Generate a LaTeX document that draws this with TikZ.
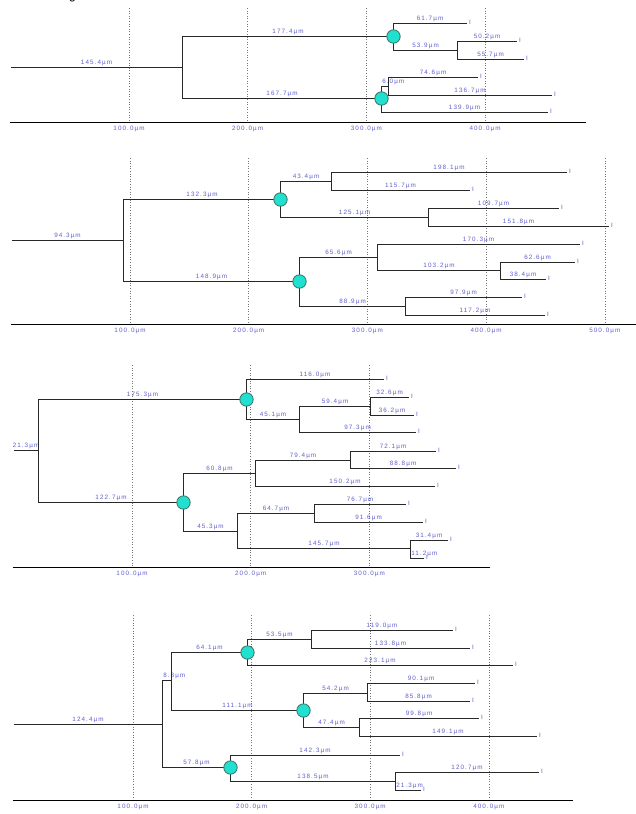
\documentclass[tikz,border=0pt]{standalone}
\usepackage{fontspec}
\newfontfamily\lblfont[LetterSpace=17]{Liberation Sans}
\newfontfamily\hdfont{Liberation Sans}
\definecolor{edgegray}{RGB}{40,40,40}
\definecolor{lblblue}{RGB}{95,95,205}
\definecolor{turq}{RGB}{32,224,208}
\definecolor{turqline}{RGB}{60,110,100}
\definecolor{gridgray}{RGB}{120,120,120}
\tikzset{
  edge/.style={draw=edgegray, line width=1.6pt},
  gridln/.style={draw=gridgray, dotted, line width=0.6pt},
  axisln/.style={draw=black, line width=1.8pt},
  lbl/.style={font=\lblfont\fontsize{6.3}{7}\selectfont, text=lblblue, inner sep=0pt},
  lblA/.style={lbl, anchor=base, yshift=3.2pt},
  lblL/.style={lbl, anchor=base west, yshift=3.2pt},
  ticklbl/.style={lbl, anchor=base, yshift=-8pt},
  leafmk/.style={lbl, anchor=base west, xshift=2.5pt, yshift=-1.2pt},
  brpt/.style={circle, fill=turq, draw=turqline, line width=0.8pt, minimum size=13.4pt, inner sep=0pt}
}
% junctions and leaves sit on pixel centres so the strokes stay crisp
\newcommand\jn[3]{%
  \pgfmathsetmacro\snx{floor(#2)+0.5}\pgfmathsetmacro\sny{floor(#3)+0.5}%
  \coordinate (#1) at (\snx,\sny);}
\newcommand\lf[3]{%
  \pgfmathsetmacro\snx{floor(#2)+0.5}\pgfmathsetmacro\sny{floor(#3)+0.5}%
  \coordinate (#1) at (\snx,\sny); \node[leafmk] (#1t) at (#1) {I};}
\newcommand\br[3]{\draw[edge] (#1) |- node[lblA,pos=0.75]{#3} (#2);}
\newcommand\brs[3]{\draw[edge] (#1) |- node[lblL,pos=0.5]{#3} (#2);}
\newcommand\rootbr[3]{\draw[edge] (#1) -- node[lblA]{#3} (#2);}
\newcommand\bp[1]{\node[brpt] (#1n) at (#1) {};}

\begin{document}
\begin{tikzpicture}[x=1pt,y=-1pt]
\useasboundingbox (0,0) rectangle (636,814);
\fill[white] (0,0) rectangle (636,814);

% clipped heading above the first tree
\node[font=\hdfont\fontsize{12}{14}\selectfont, anchor=base, inner sep=0pt] (hd) at (72.5,-0.3) {g};

% ---------------- tree 1 ----------------
\foreach \gx in {129,247.6,366.4,485.1} \draw[gridln] (\gx,8) -- (\gx,122.5);
\draw[axisln] (10,122.5) -- (585.7,122.5);
\foreach \gx/\t in {129/100.0,247.6/200.0,366.4/300.0,485.1/400.0}
  \node[ticklbl] at (\gx,122.3) {\t µm};

\jn{t1r}{10}{67}
\jn{t1a}{182.5}{67}
\jn{t1b}{393.1}{36.3}
\jn{t1c}{381.6}{98.7}
\jn{t1d}{457.1}{50.3}
\jn{t1e}{388.7}{86}
\lf{t1l1}{466.3}{23.7}
\lf{t1l2}{516.7}{41.3}
\lf{t1l3}{523.2}{59.3}
\lf{t1l4}{477.3}{77.3}
\lf{t1l5}{551}{95}
\lf{t1l6}{547.7}{112.7}

\rootbr{t1r}{t1a}{145.4µm}
\br{t1a}{t1b}{177.4µm}
\br{t1a}{t1c}{167.7µm}
\br{t1b}{t1l1}{61.7µm}
\br{t1b}{t1d}{53.9µm}
\br{t1d}{t1l2}{50.2µm}
\br{t1d}{t1l3}{55.7µm}
\brs{t1c}{t1e}{6.0µm}
\br{t1e}{t1l4}{74.6µm}
\br{t1e}{t1l5}{136.7µm}
\br{t1c}{t1l6}{139.9µm}
\bp{t1b}
\bp{t1c}

% ---------------- tree 2 ----------------
\foreach \gx in {130,248.7,367.4,486.1,604.8} \draw[gridln] (\gx,158) -- (\gx,324.5);
\draw[axisln] (10.7,324.5) -- (636,324.5);
\foreach \gx/\t in {130/100.0,248.7/200.0,367.4/300.0,486.1/400.0,604.8/500.0}
  \node[ticklbl] at (\gx,324.7) {\t µm};

\jn{t2r}{11}{240}
\jn{t2a}{123.2}{240}
\jn{t2b}{280.2}{199.3}
\jn{t2c}{299.9}{281.3}
\jn{t2d}{331.7}{181.3}
\jn{t2e}{428.7}{217.3}
\jn{t2f}{377.8}{257}
\jn{t2g}{405.4}{306}
\jn{t2h}{500.3}{270.3}
\lf{t2l1}{566.8}{172.7}
\lf{t2l2}{469}{190.7}
\lf{t2l3}{558.9}{208.7}
\lf{t2l4}{608.9}{226.7}
\lf{t2l5}{579.9}{244.3}
\lf{t2l6}{574.6}{262}
\lf{t2l7}{545.9}{279.7}
\lf{t2l8}{521.6}{297.3}
\lf{t2l9}{544.5}{315}

\rootbr{t2r}{t2a}{94.3µm}
\br{t2a}{t2b}{132.3µm}
\br{t2a}{t2c}{148.9µm}
\br{t2b}{t2d}{43.4µm}
\br{t2b}{t2e}{125.1µm}
\br{t2d}{t2l1}{198.1µm}
\br{t2d}{t2l2}{115.7µm}
\br{t2e}{t2l3}{109.7µm}
\br{t2e}{t2l4}{151.8µm}
\br{t2c}{t2f}{65.6µm}
\br{t2c}{t2g}{88.9µm}
\br{t2f}{t2l5}{170.3µm}
\br{t2f}{t2h}{103.2µm}
\br{t2h}{t2l6}{62.6µm}
\br{t2h}{t2l7}{38.4µm}
\br{t2g}{t2l8}{97.9µm}
\br{t2g}{t2l9}{117.2µm}
\bp{t2b}
\bp{t2c}

% ---------------- tree 3 ----------------
\foreach \gx in {132,250.7,369.4} \draw[gridln] (\gx,365) -- (\gx,567.5);
\draw[axisln] (12.7,567.5) -- (490,567.5);
\foreach \gx/\t in {132/100.0,250.7/200.0,369.4/300.0}
  \node[ticklbl] at (\gx,567.7) {\t µm};

\jn{t3r}{13}{450}
\jn{t3a}{38}{450}
\jn{t3b}{246.1}{399.7}
\jn{t3c}{183.6}{502}
\jn{t3d}{299.6}{419.7}
\jn{t3e}{370.1}{406.7}
\jn{t3f}{255.8}{473}
\jn{t3g}{237.4}{531.3}
\jn{t3h}{350}{460.3}
\jn{t3i}{314.2}{513}
\jn{t3j}{410.4}{548.7}
\lf{t3l1}{383.8}{379.7}
\lf{t3l2}{408.8}{397.3}
\lf{t3l3}{413.1}{415.3}
\lf{t3l4}{415.1}{432.7}
\lf{t3l5}{435.6}{451}
\lf{t3l6}{455.4}{468.7}
\lf{t3l7}{434.1}{486}
\lf{t3l8}{405.2}{504.3}
\lf{t3l9}{422.9}{522}
\lf{t3l10}{447.7}{540}
\lf{t3l11}{423.7}{558}

\rootbr{t3r}{t3a}{21.3µm}
\br{t3a}{t3b}{175.3µm}
\br{t3a}{t3c}{122.7µm}
\br{t3b}{t3l1}{116.0µm}
\br{t3b}{t3d}{45.1µm}
\br{t3d}{t3e}{59.4µm}
\br{t3d}{t3l4}{97.3µm}
\br{t3e}{t3l2}{32.6µm}
\br{t3e}{t3l3}{36.2µm}
\br{t3c}{t3f}{60.8µm}
\br{t3c}{t3g}{45.3µm}
\br{t3f}{t3h}{79.4µm}
\br{t3f}{t3l7}{150.2µm}
\br{t3h}{t3l5}{72.1µm}
\br{t3h}{t3l6}{88.8µm}
\br{t3g}{t3i}{64.7µm}
\br{t3g}{t3j}{145.7µm}
\br{t3i}{t3l8}{76.7µm}
\br{t3i}{t3l9}{91.6µm}
\br{t3j}{t3l10}{31.4µm}
\brs{t3j}{t3l11}{11.2µm}
\bp{t3b}
\bp{t3c}

% ---------------- tree 4 ----------------
\foreach \gx in {133,251.6,370.2,488.8} \draw[gridln] (\gx,615) -- (\gx,800.5);
\draw[axisln] (13.3,800.5) -- (572.7,800.5);
\foreach \gx/\t in {133/100.0,251.6/200.0,370.2/300.0,488.8/400.0}
  \node[ticklbl] at (\gx,800) {\t µm};

\jn{t4r}{13.3}{724.7}
\jn{t4a}{162}{724.7}
\jn{t4b}{171.5}{680.7}
\jn{t4c}{230.6}{767.7}
\jn{t4d}{247.6}{652}
\jn{t4e}{303.4}{710.3}
\jn{t4f}{311.1}{639.3}
\jn{t4g}{367.7}{693}
\jn{t4h}{359.7}{727.7}
\jn{t4i}{395}{781.7}
\lf{t4l1}{452.4}{630.3}
\lf{t4l2}{469.9}{648}
\lf{t4l3}{512.4}{665.3}
\lf{t4l4}{474.7}{683.7}
\lf{t4l5}{469.5}{701.3}
\lf{t4l6}{478.2}{718.7}
\lf{t4l7}{536.7}{736.3}
\lf{t4l8}{399.5}{755}
\lf{t4l9}{538.3}{772.3}
\lf{t4l10}{420.3}{790.3}

\rootbr{t4r}{t4a}{124.4µm}
\brs{t4a}{t4b}{8.8µm}
\br{t4a}{t4c}{57.8µm}
\br{t4b}{t4d}{64.1µm}
\br{t4b}{t4e}{111.1µm}
\br{t4d}{t4f}{53.5µm}
\br{t4d}{t4l3}{223.1µm}
\br{t4f}{t4l1}{119.0µm}
\br{t4f}{t4l2}{133.8µm}
\br{t4e}{t4g}{54.2µm}
\br{t4e}{t4h}{47.4µm}
\br{t4g}{t4l4}{90.1µm}
\br{t4g}{t4l5}{85.8µm}
\br{t4h}{t4l6}{99.8µm}
\br{t4h}{t4l7}{149.1µm}
\br{t4c}{t4l8}{142.3µm}
\br{t4c}{t4i}{138.5µm}
\br{t4i}{t4l9}{120.7µm}
\brs{t4i}{t4l10}{21.3µm}
\bp{t4d}
\bp{t4e}
\bp{t4c}
\end{tikzpicture}
\end{document}
